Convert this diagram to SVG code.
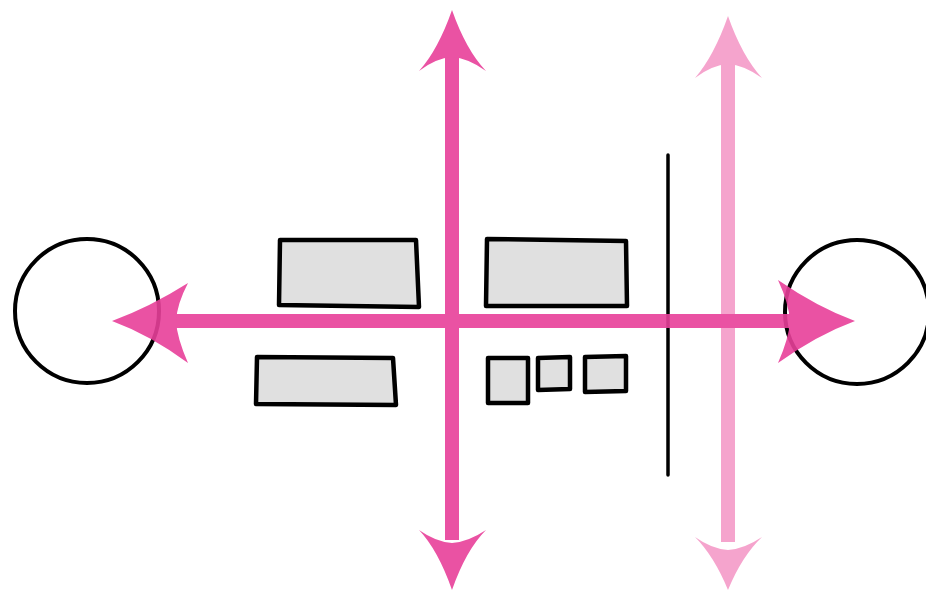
<svg xmlns="http://www.w3.org/2000/svg" width="926" height="599" viewBox="0 0 926 599">
<style>
.box{fill:#e0e0e0;stroke:#000;stroke-width:4.5;stroke-linejoin:round}
.circ{fill:none;stroke:#000;stroke-width:4}
.p1{fill:#e8409a;stroke:none}
.p2{fill:#f59bc8;stroke:none}
</style>
<rect width="926" height="599" fill="#fff"/>
<g id="nodes">
<circle id="circleLeft" class="circ" cx="87" cy="311" r="72"/>
<circle id="circleRight" class="circ" cx="857" cy="312" r="72"/>
<path id="box1" class="box" d="M280,240 L416,240 L419,307 L279,305 Z"/>
<path id="box2" class="box" d="M487,239 L626,241 L627,306 L486,306 Z"/>
<path id="box3" class="box" d="M257,357 L393,358 L396,405 L256,404 Z"/>
<path id="box4" class="box" d="M488,358 L528,358 L528,403 L488,403 Z"/>
<path id="box5" class="box" d="M538,358 L570,357 L570,389 L538,390 Z"/>
<path id="box6" class="box" d="M585,357 L626,356 L626,391 L585,392 Z"/>
<line id="barrier" x1="668" y1="155" x2="668" y2="475" stroke="#000" stroke-width="3.5" stroke-linecap="round"/>
</g>
<g id="connectors" opacity="0.9">
<g id="vertical1" class="p1">
<rect x="445" y="55" width="14" height="485"/>
<path d="M452,10 Q438,50 419,71 Q436,58 452,57 Q468,58 486,71 Q466,50 452,10 Z"/>
<path d="M452,590 Q438,550 419,530 Q436,542 452,543 Q468,542 486,530 Q466,550 452,590 Z"/>
</g>
<g id="vertical2" class="p2">
<rect x="721" y="62" width="14" height="480"/>
<path d="M728,16 Q714,56 695,78 Q712,65 728,64 Q744,65 762,78 Q742,56 728,16 Z"/>
<path d="M728,590 Q714,556 695,537 Q712,549 728,550 Q744,549 762,537 Q742,556 728,590 Z"/>
</g>
<g id="horizontal" class="p1">
<rect x="175" y="314" width="630" height="14"/>
<path d="M112,321 Q150,307 188,283 Q177,304 176,321 Q177,338 188,363 Q150,335 112,321 Z"/>
<path d="M855,321 Q817,307 778,280 Q789,304 790,321 Q789,338 778,363 Q817,335 855,321 Z"/>
</g>
</g>
</svg>
